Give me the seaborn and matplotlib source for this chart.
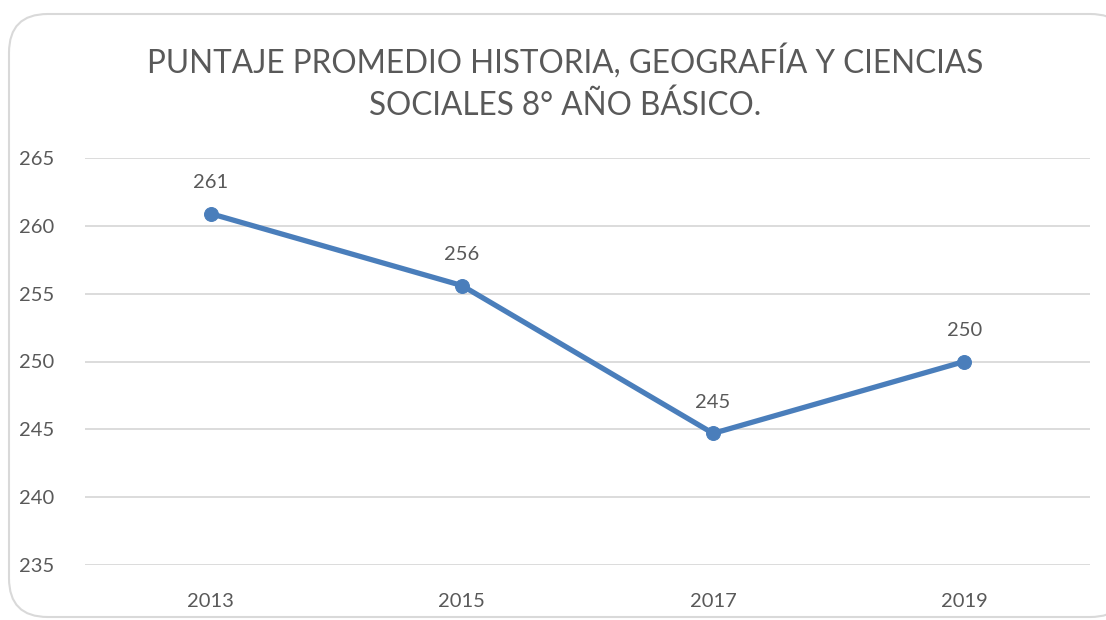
import matplotlib
matplotlib.use("Agg")
import matplotlib.pyplot as plt
import seaborn as sns
import pandas as pd
from matplotlib.patches import FancyBboxPatch

# Data
years = ["2013", "2015", "2017", "2019"]
scores = [260.9, 255.6, 244.7, 250.0]
labels = ["261", "256", "245", "250"]
y_ticks = [235, 240, 245, 250, 255, 260, 265]

TITLE = "PUNTAJE PROMEDIO HISTORIA, GEOGRAFÍA Y CIENCIAS\nSOCIALES 8° AÑO BÁSICO."
LINE_COLOR = "#4a7ebb"
TEXT_COLOR = "#595959"
GRID_COLOR = "#d9d9d9"

sns.set_theme(style="white")
plt.rcParams["font.family"] = ["Lato", "DejaVu Sans"]

W, H = 1106, 620
fig = plt.figure(figsize=(W / 100, H / 100), dpi=100)

# rounded chart border
border = FancyBboxPatch((9 / W, 3 / H), 1120 / W, 603 / H,
                        boxstyle="round,pad=0,rounding_size=0.035",
                        transform=fig.transFigure, facecolor="white",
                        edgecolor=GRID_COLOR, linewidth=1.5, zorder=-5,
                        mutation_aspect=W / H)
fig.patches.append(border)

ax = fig.add_axes([85 / W, 1 - 565 / H, (1090 - 85) / W, (565 - 158) / H])
ax.set_zorder(2)
ax.set_facecolor("none")

df = pd.DataFrame({"year": years, "score": scores})
sns.lineplot(data=df, x="year", y="score", sort=False, color=LINE_COLOR,
             linewidth=3.8, marker="o", markersize=10,
             markeredgecolor=LINE_COLOR, ax=ax)

for i, (v, lab) in enumerate(zip(scores, labels)):
    ax.annotate(lab, (i, v), xytext=(0, 16), textcoords="offset points",
                ha="center", va="bottom", fontsize=14.5, color=TEXT_COLOR)

ax.set_xlim(-0.5, len(years) - 0.5)
ax.set_ylim(235, 265)
ax.set_yticks(y_ticks)
ax.yaxis.grid(True, color=GRID_COLOR, linewidth=1.3)
ax.xaxis.grid(False)
for s in ax.spines.values():
    s.set_visible(False)
ax.tick_params(axis="y", length=0, pad=22, labelsize=14.5, labelcolor=TEXT_COLOR)
ax.tick_params(axis="x", length=0, pad=20, labelsize=14.5, labelcolor=TEXT_COLOR)
ax.set_xlabel("")
ax.set_ylabel("")

fig.text(565 / W, 1 - 82 / H, TITLE, ha="center", va="center",
         fontsize=22.7, color=TEXT_COLOR, linespacing=1.5,
         fontweight="normal")

fig.savefig("out.png", dpi=100)
